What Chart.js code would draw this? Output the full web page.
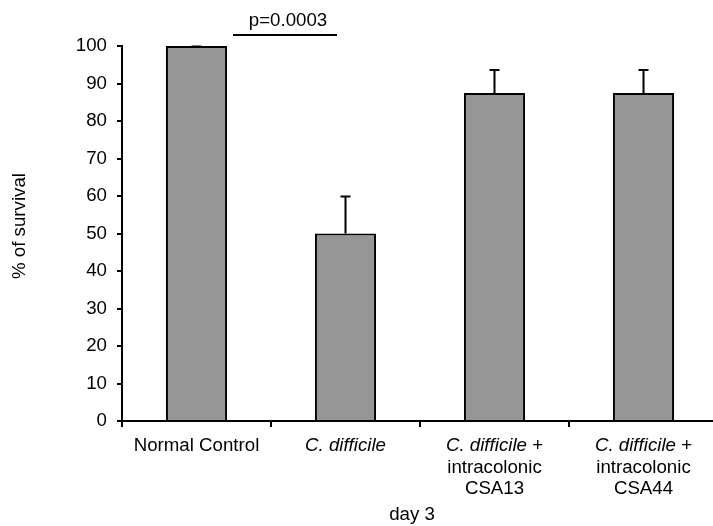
<!DOCTYPE html>
<html>
<head>
<meta charset="utf-8">
<script src="https://cdn.jsdelivr.net/npm/chart.js@4/dist/chart.umd.min.js"></script>
<style>
html,body{margin:0;padding:0;background:#fff;overflow:hidden;width:713px;height:526px;}
canvas{display:block;}
</style>
</head>
<body>
<canvas id="c" width="726" height="526"></canvas>
<script>
// ---- data ----
const categories = ['Normal Control', 'C. difficile', 'C. difficile + intracolonic CSA13', 'C. difficile + intracolonic CSA44'];
const survival = [100, 50, 87.5, 87.5];
const errorUp = [0, 10, 6.25, 6.25];
const yMin = 0, yMax = 100, yStep = 10;
// label lines: each segment [text, italic]
const labelLines = [
  [[['Normal Control', false]]],
  [[['C. difficile', true]]],
  [[['C. difficile', true], [' +', false]], [['intracolonic', false]], [['CSA13', false]]],
  [[['C. difficile', true], [' +', false]], [['intracolonic', false]], [['CSA44', false]]]
];
const yTitle = '% of survival';
const xTitle = 'day 3';
const pText = 'p=0.0003';

const FONT = "'Liberation Sans', Arial, sans-serif";
const FS = 18.7;

const overlay = {
  id: 'overlay',
  afterDatasetsDraw(chart) {
    const ctx = chart.ctx;
    const xs = chart.scales.x, ys = chart.scales.y;
    const w = xs.getPixelForValue(1) - xs.getPixelForValue(0);
    ctx.save();
    // error bars
    ctx.strokeStyle = '#000';
    ctx.lineWidth = 2;
    survival.forEach((v, i) => {
      const x = xs.getPixelForValue(i);
      const y0 = ys.getPixelForValue(v);
      const y1 = ys.getPixelForValue(v + errorUp[i]);
      ctx.beginPath();
      if (errorUp[i] > 0) { ctx.moveTo(x, y0); ctx.lineTo(x, y1); }
      ctx.moveTo(x - 5, y1 + 0.5); ctx.lineTo(x + 5, y1 + 0.5);
      ctx.stroke();
    });
    // category labels
    ctx.fillStyle = '#000';
    ctx.textBaseline = 'alphabetic';
    ctx.textAlign = 'left';
    const base = chart.chartArea.bottom;
    const lh = 21.5;
    labelLines.forEach((lines, i) => {
      const cx = xs.getPixelForValue(i);
      lines.forEach((segs, li) => {
        let total = 0;
        const widths = segs.map(s => {
          ctx.font = (s[1] ? 'italic ' : '') + FS + 'px ' + FONT;
          const m = ctx.measureText(s[0]).width;
          total += m; return m;
        });
        let x = cx - total / 2;
        const y = base + 30 + li * lh;
        segs.forEach((s, k) => {
          ctx.font = (s[1] ? 'italic ' : '') + FS + 'px ' + FONT;
          ctx.fillText(s[0], x, y);
          x += widths[k];
        });
      });
    });
    // x title
    ctx.font = FS + 'px ' + FONT;
    ctx.textAlign = 'center';
    ctx.fillText(xTitle, 412, 520);
    // y title
    ctx.save();
    ctx.translate(25, 226);
    ctx.rotate(-Math.PI / 2);
    ctx.textAlign = 'center';
    ctx.fillText(yTitle, 0, 0);
    ctx.restore();
    // p-value annotation
    const px0 = xs.getPixelForValue(0) + 0.245 * w;
    const px1 = xs.getPixelForValue(1) - 0.057 * w;
    ctx.beginPath();
    ctx.moveTo(px0, 35); ctx.lineTo(px1, 35);
    ctx.stroke();
    ctx.textAlign = 'center';
    ctx.fillText(pText, (px0 + px1) / 2 + 3, 26);
    ctx.restore();
  }
};

new Chart(document.getElementById('c'), {
  type: 'bar',
  data: {
    labels: categories,
    datasets: [{
      data: survival,
      backgroundColor: '#969696',
      borderColor: '#000',
      borderWidth: 2,
      borderSkipped: 'start',
      categoryPercentage: 1.0,
      barPercentage: 0.41
    }]
  },
  options: {
    responsive: false,
    animation: false,
    devicePixelRatio: 1,
    layout: { padding: { top: 46, right: 8, bottom: 0, left: 0 } },
    plugins: { legend: { display: false }, tooltip: { enabled: false } },
    scales: {
      x: {
        grid: { offset: true, drawOnChartArea: false, drawTicks: true, tickLength: 6, color: '#000', lineWidth: 2 },
        border: { display: true, color: '#000', width: 2 },
        ticks: { display: true, callback: () => '', font: { size: 1 } },
        afterFit(s) { s.height = 105; }
      },
      y: {
        min: yMin, max: yMax,
        grid: { drawOnChartArea: false, drawTicks: true, tickLength: 5, color: '#000', lineWidth: 2 },
        border: { display: true, color: '#000', width: 2 },
        ticks: { stepSize: yStep, color: '#000', padding: 10, font: { family: FONT, size: FS } },
        afterFit(s) { s.width = 122; }
      }
    }
  },
  plugins: [overlay]
});
</script>
</body>
</html>
